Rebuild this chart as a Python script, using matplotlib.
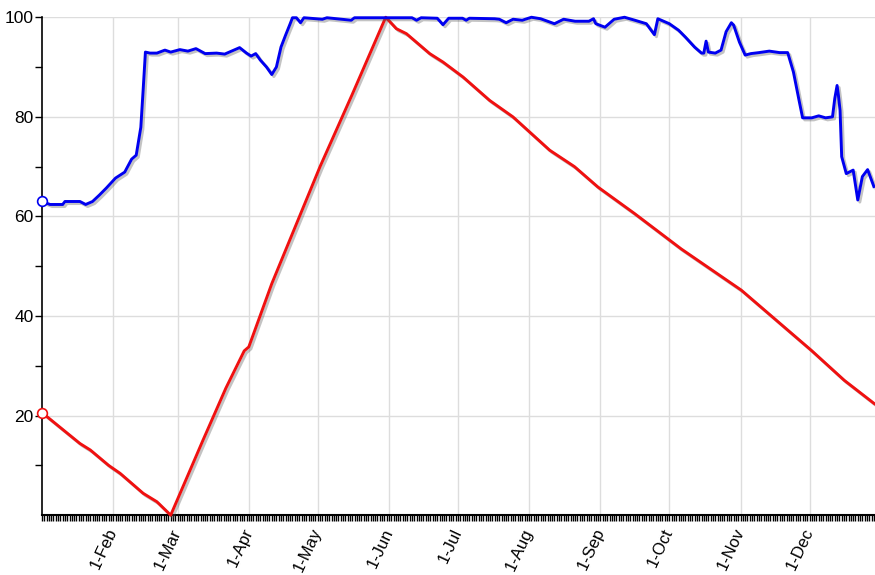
import numpy as np
import matplotlib
matplotlib.use("Agg")
import matplotlib.pyplot as plt
import matplotlib.dates as mdates
import matplotlib.patheffects as pe
from matplotlib.ticker import FixedLocator, FuncFormatter

plt.rcParams['font.family'] = ['Liberation Sans', 'DejaVu Sans']

start = np.datetime64('2013-01-01T00:00')

# blue series: day of year offset, value
blue_days = [0, 3.5, 9, 10, 16.5, 19, 22, 25, 28, 32, 36, 39, 41, 43, 44, 45,
             47, 50, 53.5, 56, 60, 63.5, 67, 71, 76, 79.5, 82.5, 86, 89, 91, 93,
             95, 97.7, 100, 102, 104, 106, 108, 109, 110.7, 112.5, 114, 122, 124,
             134.6, 136, 161, 163, 165, 172, 174.5, 177, 183, 184.6, 186, 197,
             199, 202, 205, 209, 213, 217, 223, 227, 232, 238, 240, 241, 245,
             249, 253.5, 258, 263, 266.5, 268, 273, 277, 280, 284, 287, 288,
             289, 290, 293, 295.5, 297.7, 300, 301, 303.5, 306, 308.5, 312,
             316.5, 321, 324.5, 327, 329.6, 331, 335, 338, 341, 344, 345, 346,
             346.6, 347.3, 348, 350, 353, 355, 357, 359.3, 362]
blue_vals = [63.0, 62.4, 62.4, 63.0, 63.0, 62.4, 63.0, 64.3, 65.7, 67.7, 68.9,
             71.5, 72.3, 77.9, 85.3, 93.0, 92.8, 92.8, 93.4, 93.0, 93.5, 93.2,
             93.7, 92.7, 92.8, 92.6, 93.2, 93.9, 92.8, 92.2, 92.7, 91.4, 90.0,
             88.5, 90.0, 94.0, 96.4, 98.7, 99.9, 99.9, 98.9, 99.9, 99.6, 99.9,
             99.4, 99.9, 99.9, 99.4, 99.9, 99.8, 98.5, 99.8, 99.8, 99.4, 99.8,
             99.7, 99.6, 98.9, 99.6, 99.4, 100.0, 99.7, 98.7, 99.6, 99.2, 99.2,
             99.7, 98.7, 98.0, 99.6, 100.0, 99.4, 98.7, 96.5, 99.7, 98.7, 97.4,
             96.0, 94.0, 92.8, 92.8, 95.2, 93.0, 92.8, 93.4, 97.1, 98.9, 98.4,
             95.0, 92.4, 92.7, 92.9, 93.2, 92.9, 92.9, 89.0, 83.0, 79.8, 79.8,
             80.2, 79.8, 80.0, 83.7, 86.3, 84.3, 81.3, 72.0, 68.6, 69.3, 63.3,
             68.0, 69.4, 66.0]

# red series
red_days = [0, 16.5, 21, 29, 34, 44, 50, 56, 70, 80, 88, 90, 100, 121, 135,
            149.6, 154.2, 158.6, 168.7, 174.5, 183.2, 194.8, 204.9, 220.9,
            231.7, 241.9, 257.8, 278.1, 304.3, 334.8, 349.1, 362.2]
red_vals = [20.6, 14.4, 13.1, 10.0, 8.4, 4.4, 2.7, 0.0, 15.0, 25.5, 33.0, 33.8,
            46.5, 70.0, 84.5, 100.0, 97.7, 96.7, 92.7, 91.0, 88.0, 83.3, 80.0,
            73.3, 70.0, 65.9, 60.6, 53.5, 45.2, 33.1, 27.1, 22.4]


def to_dates(days):
    hours = np.round(np.array(days) * 24).astype('timedelta64[h]')
    return start + hours


fig = plt.figure(figsize=(8.75, 5.75), dpi=100)
ax = fig.add_axes([0.048, 0.104, 0.952, 0.866])

shadow = [pe.SimpleLineShadow(offset=(1.5, -1.5), shadow_color='#555555', alpha=0.35),
          pe.Normal()]

for days, vals, col in [(red_days, red_vals, '#f01010'), (blue_days, blue_vals, '#0000f0')]:
    d = to_dates(days)
    ax.plot(d, vals, color=col, lw=2.1, solid_joinstyle='round',
            path_effects=shadow, clip_on=False, zorder=3)
    ax.plot(d[:1], vals[:1], 'o', ms=7, mfc='white', mec=col, mew=1.2,
            clip_on=False, zorder=4)

ax.set_xlim(start, start + np.timedelta64(int(362.5 * 24), 'h'))
ax.set_ylim(0, 100)

ax.xaxis.set_major_locator(mdates.MonthLocator(bymonth=range(2, 13)))
ax.xaxis.set_minor_locator(mdates.DayLocator())
ax.xaxis.set_major_formatter(FuncFormatter(
    lambda v, p: '%d-%s' % (mdates.num2date(v).day, mdates.num2date(v).strftime('%b'))))

ax.yaxis.set_major_locator(FixedLocator([20, 40, 60, 80, 100]))
ax.yaxis.set_minor_locator(FixedLocator([10, 30, 50, 70, 90]))

ax.grid(True, which='major', color='#dddddd', lw=1)
ax.set_axisbelow(True)

for s in ['top', 'right']:
    ax.spines[s].set_visible(False)
ax.spines['left'].set_linewidth(1.2)
ax.spines['bottom'].set_linewidth(1.5)

ax.tick_params(axis='y', which='major', length=5, width=1, labelsize=12.5, pad=1)
ax.tick_params(axis='y', which='minor', length=5, width=1)
ax.tick_params(axis='x', which='both', length=4, width=1, labelsize=12, pad=6)
for lab in ax.get_xticklabels():
    lab.set_rotation(65)
    lab.set_ha('right')
    lab.set_va('center')
    lab.set_rotation_mode('anchor')

fig.savefig('out.png', dpi=100)
